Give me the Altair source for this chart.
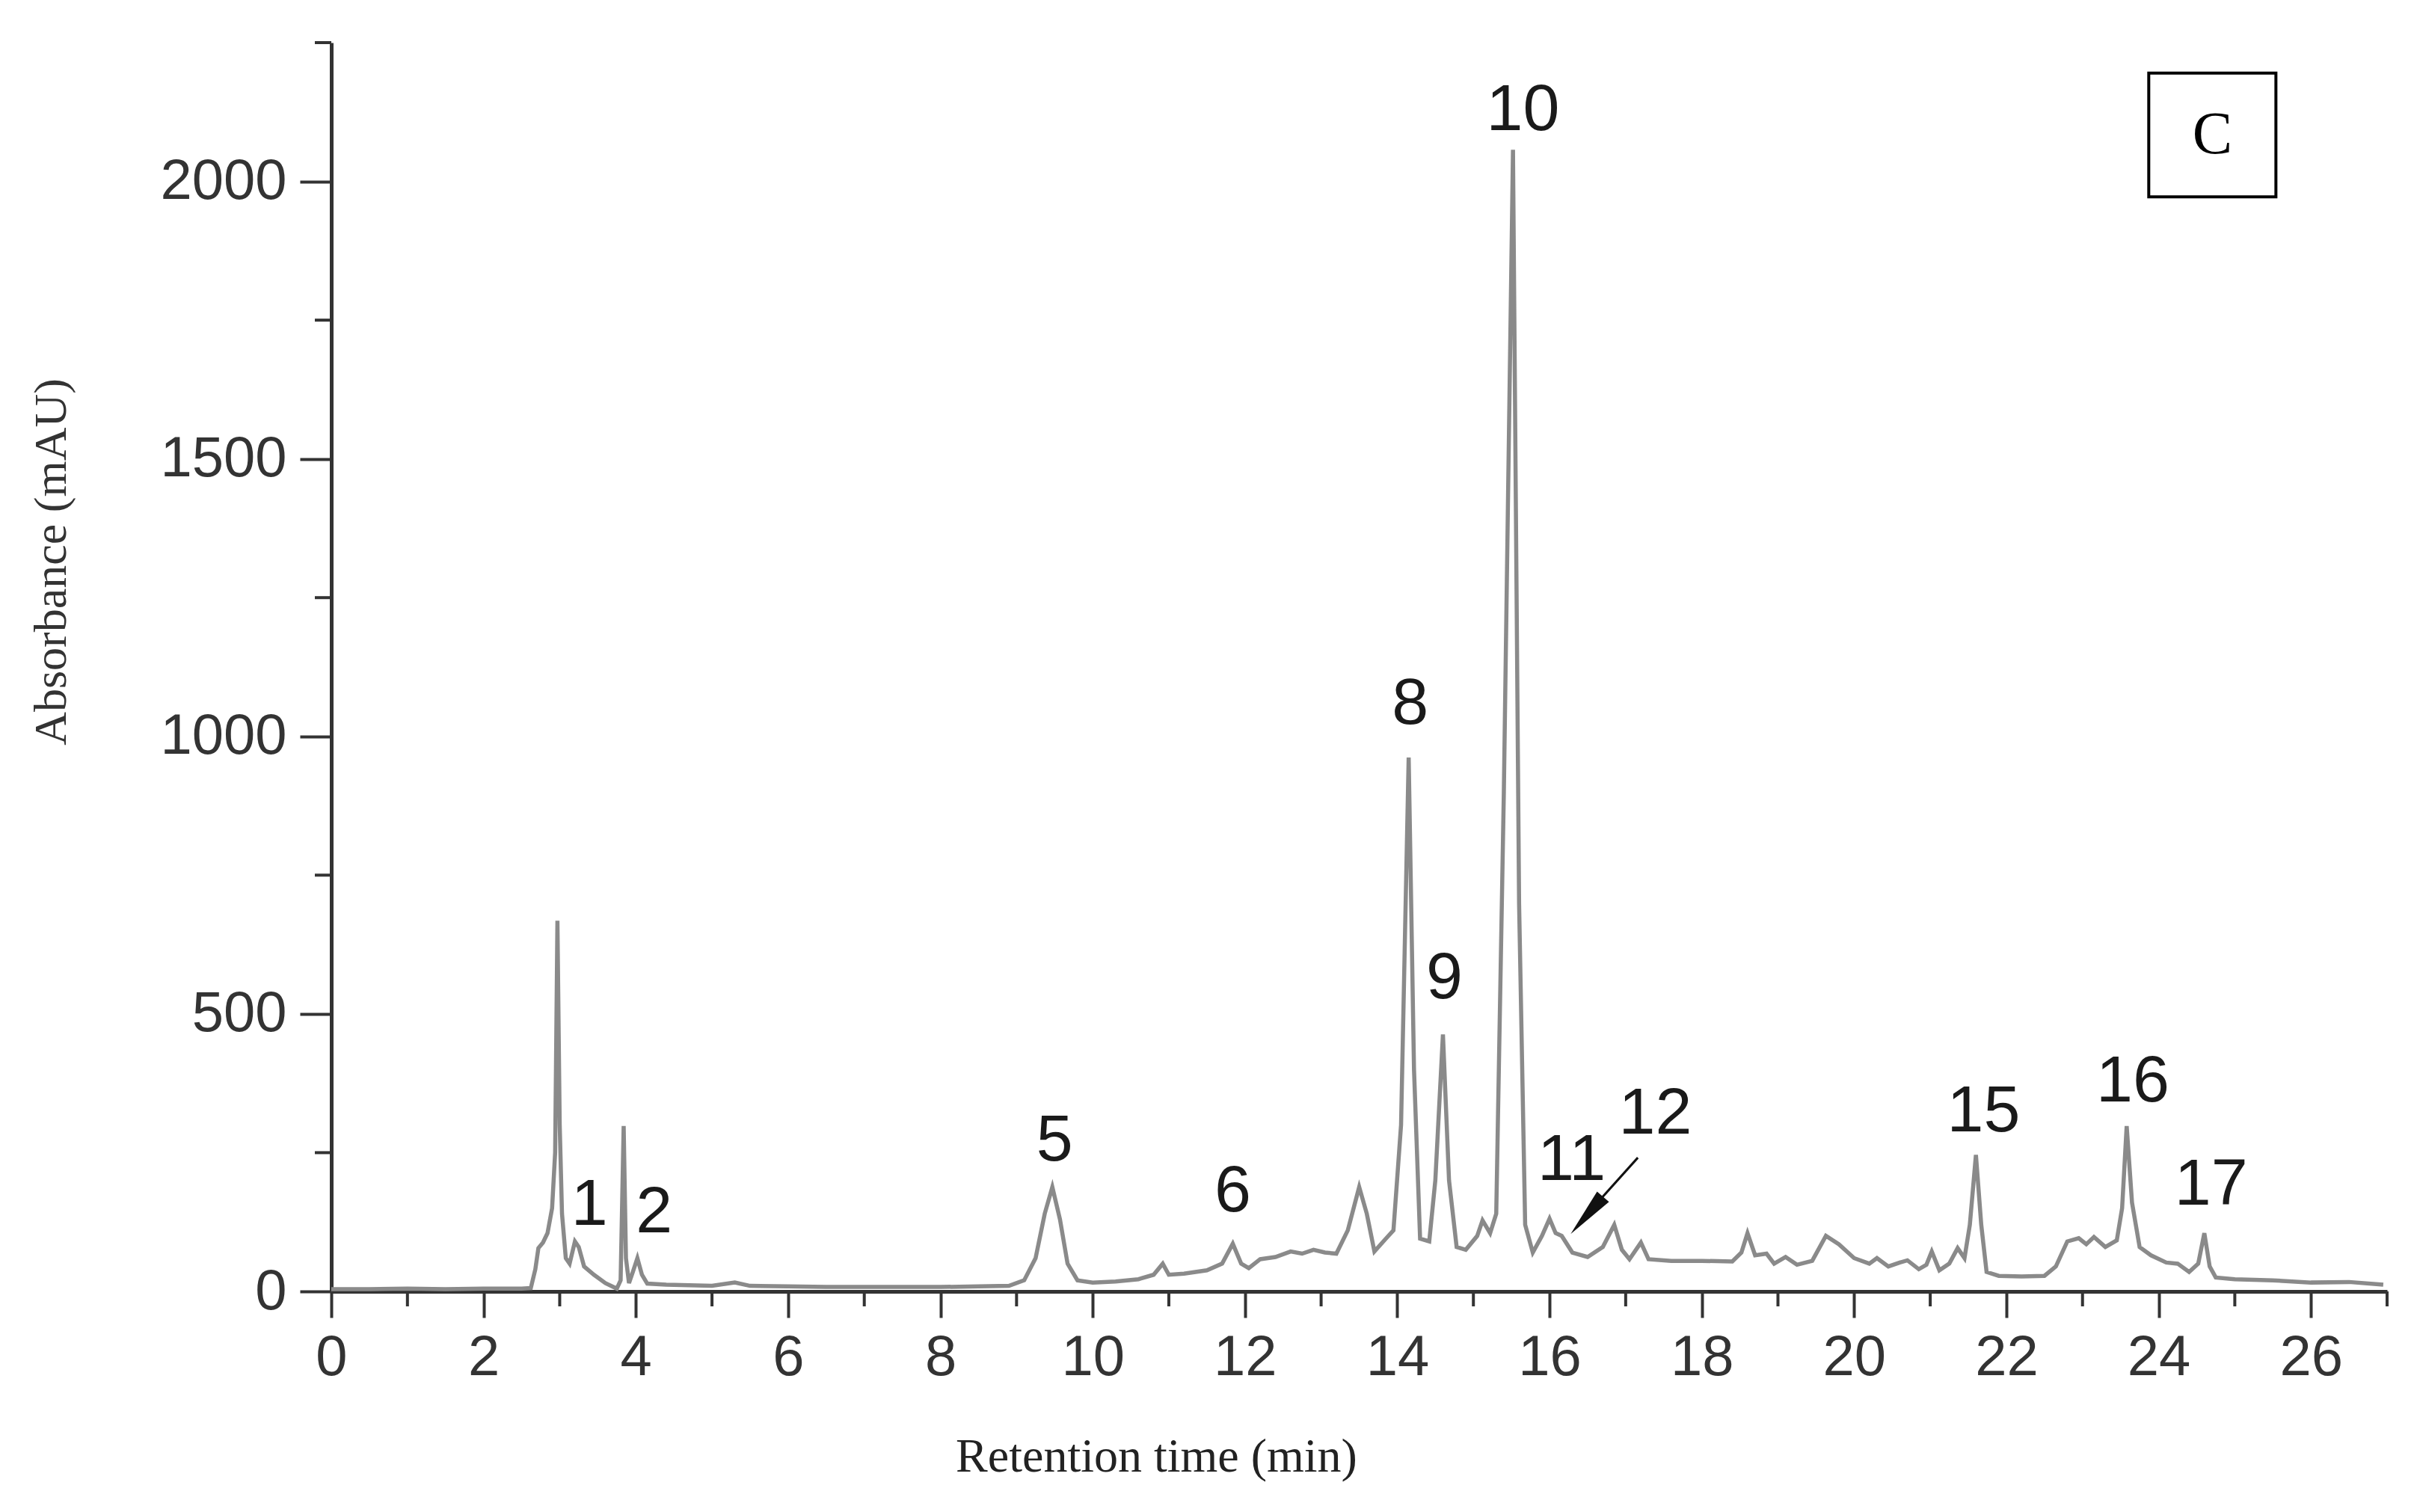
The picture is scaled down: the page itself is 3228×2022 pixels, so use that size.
import altair as alt
import pandas as pd

# ---------------- data ----------------
time_min = [
    0.0, 0.5, 1.0, 1.5, 2.0, 2.5, 2.62, 2.68, 2.72, 2.78, 2.84, 2.9, 2.94, 2.97,
    3.0, 3.03, 3.08, 3.13, 3.2, 3.25, 3.32, 3.45, 3.6, 3.75, 3.8, 3.84, 3.87, 3.91,
    3.96, 4.02, 4.08, 4.15, 4.4, 4.7, 5.0, 5.3, 5.5, 6.0, 6.5, 7.0, 7.5, 8.0, 8.5,
    8.9, 9.1, 9.25, 9.37, 9.47, 9.57, 9.67, 9.8, 10.0, 10.3, 10.6, 10.8, 10.92,
    11.0, 11.2, 11.5, 11.7, 11.84, 11.95, 12.05, 12.2, 12.4, 12.6, 12.75, 12.9,
    13.05, 13.2, 13.35, 13.5, 13.6, 13.7, 13.85, 13.95, 14.05, 14.15, 14.22, 14.3,
    14.42, 14.5, 14.6, 14.68, 14.78, 14.9, 15.05, 15.12, 15.22, 15.3, 15.4, 15.52,
    15.6, 15.68, 15.78, 15.9, 16.0, 16.08, 16.16, 16.3, 16.5, 16.7, 16.85, 16.95,
    17.05, 17.2, 17.3, 17.6, 18.0, 18.4, 18.52, 18.6, 18.7, 18.85, 18.95, 19.1,
    19.25, 19.45, 19.63, 19.8, 20.0, 20.2, 20.3, 20.45, 20.6, 20.7, 20.85, 20.95,
    21.02, 21.12, 21.25, 21.36, 21.45, 21.52, 21.6, 21.67, 21.74, 21.9, 22.2, 22.5,
    22.65, 22.8, 22.95, 23.05, 23.15, 23.3, 23.45, 23.52, 23.58, 23.65, 23.75, 23.9,
    24.1, 24.25, 24.4, 24.52, 24.6, 24.67, 24.75, 25.0, 25.5, 26.0, 26.5, 26.95,
]
absorbance = [
    4, 4, 5, 4, 5, 5, 6, 40, 78, 88, 105, 150, 250, 668,
    300, 140, 60, 50, 90, 80, 45, 30, 15, 5, 20, 298, 60, 15,
    35, 60, 30, 14, 12, 11, 10, 16, 10, 9, 8, 8, 8, 8, 9,
    10, 20, 60, 140, 188, 130, 50, 20, 16, 18, 22, 30, 50,
    30, 32, 38, 50, 86, 50, 42, 58, 62, 72, 68, 75,
    70, 68, 110, 188, 140, 72, 95, 110, 300, 962, 400, 95,
    90, 200, 463, 200, 80, 75, 100, 128, 105, 140, 900, 2057,
    700, 120, 70, 100, 131, 105, 100, 70, 62, 80, 120, 75,
    58, 88, 58, 55, 55, 54, 70, 105, 65, 68, 50, 62,
    48, 55, 100, 85, 60, 50, 60, 45, 52, 56, 40, 48,
    72, 38, 50, 78, 60, 120, 246, 120, 35, 28, 27, 28,
    45, 90, 96, 85, 98, 80, 92, 150, 298, 160, 80, 65,
    52, 50, 35, 50, 105, 45, 25, 22, 20, 16, 17, 12,
]

peak_labels = ["1", "2", "5", "6", "8", "9", "10", "11", "12", "15", "16", "17"]
label_t = [3.39, 4.24, 9.5, 11.84, 14.17, 14.62, 15.65, 16.29, 17.39, 21.7, 23.66, 24.69]
label_v = [155, 141, 271, 179, 1058, 563, 2128, 236, 319, 324, 377, 191]

x_major = list(range(0, 27, 2))
x_minor = list(range(1, 28, 2))
y_major = [0, 500, 1000, 1500, 2000]
y_minor = [250, 750, 1250, 1750, 2250]

arrow_t, arrow_v, arrow_t2, arrow_v2 = [17.16], [241], [16.4], [125]
head_t, head_v = [16.49], [137]

panel_text = ["C"]
panel_t, panel_t2 = [23.87], [25.54]
panel_v, panel_v2 = [1972], [2195]

# ---------------- chart ----------------
W, H = 2749, 1670
AX = "#333333"

xs = alt.Scale(domain=[0, 27], nice=False, zero=False)
ys = alt.Scale(domain=[0, 2250], nice=False)

xaxis = alt.Axis(
    values=x_major, format="d", title="Retention time (min)",
    domainColor=AX, domainWidth=5, tickColor=AX, tickWidth=4, tickSize=35,
    labelFont="Liberation Sans", labelFontSize=76, labelColor=AX,
    labelPadding=16, labelFlush=False, labelOverlap=False, grid=False,
    titleFont="Liberation Serif", titleFontSize=64, titleFontWeight="normal",
    titleColor="#222222", titleX=1103, titleY=221, titleBaseline="middle",
    titleAlign="center")
yaxis = alt.Axis(
    values=y_major, format="d", title="Absorbance (mAU)",
    domainColor=AX, domainWidth=5, tickColor=AX, tickWidth=4, tickSize=42,
    labelFont="Liberation Sans", labelFontSize=76, labelColor=AX,
    labelPadding=18, labelFlush=False, labelOverlap=False, grid=False,
    titleFont="Liberation Serif", titleFontSize=62, titleFontWeight="normal",
    titleColor="#333333", titleX=-375, titleY=694, titleAngle=270,
    titleBaseline="middle", titleAlign="center")


def X(field="t"):
    return alt.X(f"{field}:Q", scale=xs, axis=xaxis, title="Retention time (min)")


def Y(field="v"):
    return alt.Y(f"{field}:Q", scale=ys, axis=yaxis, title="Absorbance (mAU)")


df = pd.DataFrame({"t": time_min, "v": absorbance})

line = alt.Chart(df).mark_line(color="#8a8a8a", strokeWidth=5.5).encode(x=X(), y=Y())

xminor = alt.Chart(pd.DataFrame({"t": x_minor})).mark_rule(
    color=AX, strokeWidth=4).encode(
    x=X(), y=alt.value(H), y2=alt.value(H + 20))

yminor = alt.Chart(pd.DataFrame({"v": y_minor})).mark_rule(
    color=AX, strokeWidth=4).encode(
    y=Y(), x=alt.value(0), x2=alt.value(-22))

labels = alt.Chart(pd.DataFrame({"t": label_t, "v": label_v, "lab": peak_labels})).mark_text(
    font="Liberation Sans", fontSize=88, color="#1a1a1a", align="center",
    baseline="middle").encode(x=X(), y=Y(), text="lab:N")

arrow = alt.Chart(pd.DataFrame({"t": arrow_t, "v": arrow_v, "t2": arrow_t2, "v2": arrow_v2})).mark_rule(
    color="#111111", strokeWidth=3).encode(x=X(), x2="t2:Q", y=Y(), y2="v2:Q")

head = alt.Chart(pd.DataFrame({"t": head_t, "v": head_v})).mark_point(
    shape="M0,-1L0.32,1L-0.32,1Z", filled=True, color="#111111", opacity=1,
    size=4356, angle=221).encode(x=X(), y=Y())

box = alt.Chart(pd.DataFrame({"t": panel_t, "t2": panel_t2, "v": panel_v, "v2": panel_v2})).mark_rect(
    fill="white", stroke="black", strokeWidth=4).encode(x=X(), x2="t2:Q", y=Y(), y2="v2:Q")

box_text = alt.Chart(pd.DataFrame({
    "t": [(panel_t[0] + panel_t2[0]) / 2], "v": [(panel_v[0] + panel_v2[0]) / 2],
    "lab": panel_text})).mark_text(
    font="Liberation Serif", fontSize=80, color="black", align="center",
    baseline="middle").encode(x=X(), y=Y(), text="lab:N")

chart = alt.layer(line, xminor, yminor, labels, arrow, head, box, box_text).properties(
    width=W, height=H,
    autosize=alt.AutoSizeParams(type="none"),
    padding={"left": 435, "top": 49, "right": 28, "bottom": 287},
    background="white",
).configure_view(stroke=None)

chart.save("out.html", embed_options={"renderer": "svg", "actions": False})
